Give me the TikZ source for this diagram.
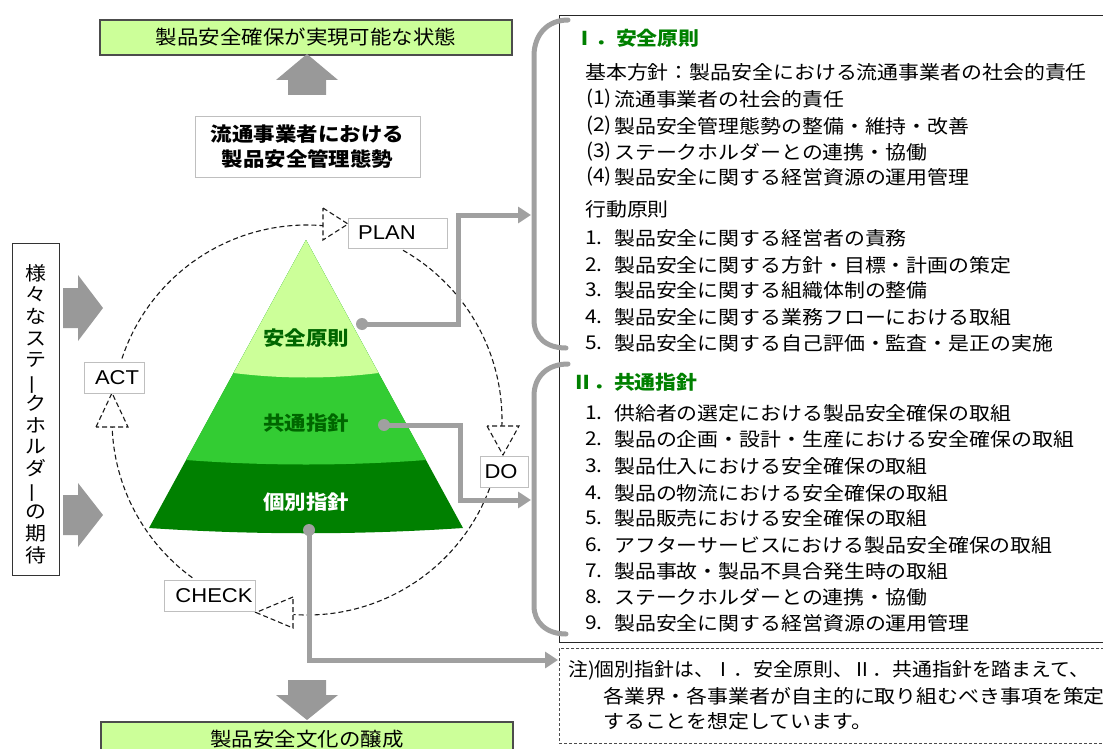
\documentclass[tikz,border=0pt]{standalone}
\usepackage{fontspec}
\usetikzlibrary{arrows.meta}
\newfontfamily\jp[FakeStretch=1.1]{Noto Sans CJK JP}
\newfontfamily\latf[FakeStretch=1.1]{Liberation Sans}
\definecolor{lgreen}{HTML}{CCFF99}
\definecolor{mgreen}{HTML}{33CC33}
\definecolor{dgreen}{HTML}{008000}
\definecolor{tgreen}{HTML}{006600}
\definecolor{hgreen}{HTML}{008000}
\definecolor{cgray}{HTML}{A0A0A0}
\definecolor{agray}{HTML}{999999}
\begin{document}
\begin{tikzpicture}[x=1pt,y=-1pt,
  jtxt/.style={font=\jp\fontsize{19}{23}\selectfont, inner sep=0pt, text=black},
  jbig/.style={font=\jp\fontsize{19.5}{25}\selectfont, inner sep=0pt},
  banner/.style={draw=black!70, line width=1.2pt, fill=lgreen, minimum width=412pt, minimum height=35pt, inner sep=0pt, font=\jp\fontsize{19.5}{24}\selectfont},
  lbox/.style={draw=black!25, fill=white, line width=0.8pt, inner sep=0pt},
  ltxt/.style={font=\latf\fontsize{20}{24}\selectfont, inner sep=0pt},
  dc/.style={draw=black!90, line width=1.1pt, dash pattern=on 5pt off 3pt},
  conn/.style={draw=cgray, line width=5pt},
  tipc/.style={-{Triangle[length=13pt,width=16pt]}},
  brk/.style={draw=cgray, line width=5pt, line cap=round},
  dot/.style={circle, fill=cgray, minimum size=12pt, inner sep=0pt},
  blk/.style={fill=agray, draw=none}
]
\useasboundingbox (0,0) rectangle (1103,749);
\fill[white] (0,0) rectangle (1103,749);

% ---------- right frames ----------
\node[draw=black!85, line width=1pt, anchor=north west, minimum width=600pt, minimum height=627pt, inner sep=0pt] (rbox) at (559,15) {};
\node[draw=black!70, line width=0.8pt, dash pattern=on 3pt off 2pt, anchor=north west, minimum width=600pt, minimum height=95pt, inner sep=0pt] (note) at (559,648) {};

% ---------- banners ----------
\node[banner] (top) at (306,37.5) {製品安全確保が実現可能な状態};
\node[banner] (bot) at (307,739.5) {製品安全文化の醸成};
\fill[blk] (288,95) -- (288,80) -- (276,80) -- (307,54) -- (338,80) -- (326,80) -- (326,95) -- cycle;
\fill[blk] (288,680) -- (288,695) -- (276,695) -- (307,720) -- (338,695) -- (326,695) -- (326,680) -- cycle;

\node[draw=black!25, line width=0.8pt, minimum width=225pt, minimum height=61pt, inner sep=0pt,
      align=center, font=\jp\bfseries\fontsize{19.5}{25}\selectfont] (mgmt) at (307.5,146.5) {流通事業者における\\製品安全管理態勢};

% ---------- left stakeholder box ----------
\node[draw=black!80, line width=1pt, minimum width=47pt, minimum height=332pt, inner sep=0pt] (stkbox) at (35.5,409) {};
\node[jtxt, align=center, font=\jp\fontsize{19}{21.7}\selectfont] (stk) at (35.5,414)
  {様\\々\\な\\ス\\テ\\\rotatebox[origin=c]{90}{ー}\\ク\\ホ\\ル\\ダ\\\rotatebox[origin=c]{90}{ー}\\の\\期\\待};
\fill[blk] (63,288) -- (78,288) -- (78,275) -- (103,308) -- (78,341) -- (78,328) -- (63,328) -- cycle;
\fill[blk] (63,495) -- (78,495) -- (78,483) -- (103,515) -- (78,547) -- (78,535) -- (63,535) -- cycle;

% ---------- PDCA dashed circle ----------
\coordinate (c) at (307,420);
\draw[dc] ([shift={(-161.6:195)}]c) arc[start angle=-161.6, end angle=-85.3, radius=195];
\draw[dc] ([shift={(-60.5:195)}]c) arc[start angle=-60.5, end angle=1.8, radius=195];
\draw[dc] ([shift={(20.5:195)}]c) arc[start angle=20.5, end angle=94, radius=195];
\draw[dc] ([shift={(126:195)}]c) arc[start angle=126, end angle=178, radius=195];

\draw[dc, fill=white] (323,208) -- (348,224) -- (323,240) -- cycle;
\draw[dc, fill=white] (487,426) -- (503,455) -- (519,426) -- cycle;
\draw[dc, fill=white] (293,597) -- (256,612.5) -- (293,628) -- cycle;
\draw[dc, fill=white] (96,427) -- (112,393) -- (128,427) -- cycle;

\node[lbox, minimum width=99pt, minimum height=30pt] (planbox) at (397.5,233) {};
\node[ltxt, anchor=west] (plan) at (358,233) {PLAN};
\node[lbox, minimum width=48pt, minimum height=31pt] (dobox) at (504,471.5) {};
\node[ltxt] (do) at (501,472) {DO};
\node[lbox, minimum width=91pt, minimum height=31pt] (checkbox) at (209.5,595.5) {};
\node[ltxt] (check) at (214,596) {CHECK};
\node[lbox, minimum width=60pt, minimum height=31pt] (actbox) at (114,377.5) {};
\node[ltxt] (act) at (117,378) {ACT};

% ---------- pyramid ----------
\fill[dgreen] (306,240) -- (149,528) .. controls (253.7,535) and (358.3,535) .. (463,528) -- cycle;
\fill[mgreen] (306,240) -- (186,460) .. controls (266,466) and (346,466) .. (426,460) -- cycle;
\fill[lgreen] (306,240) -- (233.5,373) .. controls (282,379) and (330,379) .. (378.5,373) -- cycle;
\node[jbig, font=\jp\bfseries\fontsize{19.5}{25}\selectfont, text=tgreen] (p1) at (306,338) {安全原則};
\node[jbig, font=\jp\bfseries\fontsize{19.5}{25}\selectfont, text=tgreen] (p2) at (306,423) {共通指針};
\node[jbig, font=\jp\bfseries\fontsize{19.5}{25}\selectfont, text=white] (p3) at (306,502) {個別指針};

% ---------- connectors ----------
\node[dot] (d1) at (362,324) {};
\node[dot] (d2) at (384,425) {};
\node[dot] (d3) at (309,530) {};
\coordinate (k1) at (458,215);
\coordinate (b1) at (531,215);
\coordinate (k2) at (460,500);
\coordinate (b2) at (531,500);
\coordinate (n1) at (558,660);
\draw[conn, tipc] (d1.center) -| (k1) -- (b1);
\draw[conn, tipc] (d2.center) -| (k2) -- (b2);
\draw[conn, tipc] (d3.center) |- (n1);

% ---------- brackets ----------
\draw[brk] (568,20) .. controls (548,20) and (534,34) .. (534,56) -- (534,320) .. controls (534,337) and (546,348) .. (566,348);
\draw[brk] (568,364) .. controls (548,364) and (534,376) .. (534,396) -- (534,606) .. controls (534,622) and (546,634) .. (566,634);

% ---------- section I ----------
\node[jtxt, anchor=west, text=hgreen, font=\jp\bfseries\fontsize{19}{23}\selectfont] (h1) at (574,38) {Ⅰ．安全原則};
\node[jtxt, anchor=west] (s0) at (585,72) {基本方針：製品安全における流通事業者の社会的責任};
\foreach \yy/\tt [count=\i] in {99/流通事業者の社会的責任, 126/製品安全管理態勢の整備・維持・改善, 152/ステークホルダーとの連携・協働, 177/製品安全に関する経営資源の運用管理}{
  \node[jtxt, anchor=west] (np\i) at (586,\yy) {(\i)};
  \node[jtxt, anchor=west] (tp\i) at (614,\yy) {\tt};
}
\node[jtxt, anchor=west] (s5) at (585,209) {行動原則};
\foreach \yy/\tt [count=\i] in {238/製品安全に関する経営者の責務, 265/製品安全に関する方針・目標・計画の策定, 290/製品安全に関する組織体制の整備, 317/製品安全に関する業務フローにおける取組, 343/製品安全に関する自己評価・監査・是正の実施}{
  \node[jtxt, anchor=west] (na\i) at (585,\yy) {\i.};
  \node[jtxt, anchor=west] (ta\i) at (614,\yy) {\tt};
}

% ---------- section II ----------
\node[jtxt, anchor=west, text=hgreen, font=\jp\bfseries\fontsize{19}{23}\selectfont] (h2) at (572,382) {Ⅱ．共通指針};
\foreach \yy/\tt [count=\i] in {413/供給者の選定における製品安全確保の取組, 439/製品の企画・設計・生産における安全確保の取組, 466/製品仕入における安全確保の取組, 493/製品の物流における安全確保の取組, 518/製品販売における安全確保の取組, 545/アフターサービスにおける製品安全確保の取組, 571/製品事故・製品不具合発生時の取組, 597/ステークホルダーとの連携・協働, 623/製品安全に関する経営資源の運用管理}{
  \node[jtxt, anchor=west] (nb\i) at (585,\yy) {\i.};
  \node[jtxt, anchor=west] (tb\i) at (614,\yy) {\tt};
}

% ---------- note ----------
\node[jtxt, anchor=west] (nt1) at (568,670) {\scalebox{0.95}[1]{注)個別指針は、Ⅰ．安全原則、Ⅱ．共通指針を踏まえて、}};
\node[jtxt, anchor=west] (nt2) at (603,696) {各業界・各事業者が自主的に取り組むべき事項を策定};
\node[jtxt, anchor=west] (nt3) at (603,721) {することを想定しています。};
\end{tikzpicture}
\end{document}
